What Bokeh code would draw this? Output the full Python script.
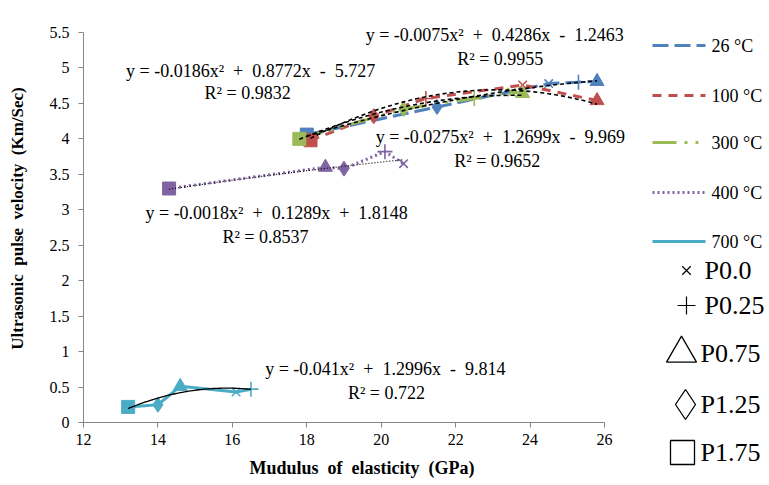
import numpy as np
from bokeh.plotting import figure
from bokeh.models import Range1d, Label, FixedTicker, CustomJSTickFormatter
from bokeh.layouts import row
from bokeh.embed import file_html
from bokeh.resources import INLINE

# ---------------- data ----------------
series_names = ["26 °C", "100 °C", "300 °C", "400 °C", "700 °C"]
levels = ["P0.0", "P0.25", "P0.75", "P1.25", "P1.75"]

e_26 = [24.5, 25.3, 25.8, 21.5, 18.0]
v_26 = [4.78, 4.80, 4.81, 4.45, 4.06]
e_100 = [23.8, 21.2, 25.8, 19.8, 18.1]
v_100 = [4.76, 4.57, 4.54, 4.32, 3.98]
e_300 = [23.5, 22.5, 23.8, 20.6, 17.8]
v_300 = [4.66, 4.57, 4.64, 4.42, 4.00]
e_400 = [20.6, 20.1, 18.5, 19.0, 14.3]
v_400 = [3.65, 3.82, 3.60, 3.58, 3.30]
e_700 = [16.1, 16.5, 14.6, 14.0, 13.2]
v_700 = [0.43, 0.47, 0.51, 0.25, 0.22]

fit_26 = [-0.0075, 0.4286, -1.2463]
fit_100 = [-0.0275, 1.2699, -9.969]
fit_300 = [-0.0186, 0.8772, -5.727]
fit_400 = [-0.0018, 0.1289, 1.8148]
fit_700 = [-0.041, 1.2996, -9.814]
r2_vals = [0.9955, 0.9652, 0.9832, 0.8537, 0.722]

x_ticks = [12, 14, 16, 18, 20, 22, 24, 26]
y_ticks = [0, 0.5, 1, 1.5, 2, 2.5, 3, 3.5, 4, 4.5, 5, 5.5]

# ---------------- style ----------------
colors = ["#4F81BD", "#C0504D", "#9BBB59", "#8064A2", "#4BACC6"]
dashes = ["16 6", "9 7", "24 8 3 8 3 8", "2 3", "solid"]
markers = ["x", "cross", "triangle", "diamond", "square"]
msizes = [12, 15, 14, 15, 13]
trend_dash = ["4 3", "4 3", "4 3", "1 2", "solid"]
trend_w = [1.6, 1.6, 1.6, 1.2, 1.3]
SERIF = "Liberation Serif"
SP = "\u00a0"

xs = [e_26, e_100, e_300, e_400, e_700]
ys = [v_26, v_100, v_300, v_400, v_700]
fits = [fit_26, fit_100, fit_300, fit_400, fit_700]

p = figure(width=650, height=482, x_range=Range1d(12, 26.967), y_range=Range1d(0, 5.754),
           output_backend="svg", toolbar_location=None,
           min_border_left=83, min_border_right=10, min_border_top=14, min_border_bottom=60)
p.outline_line_color = None
p.grid.visible = False
p.background_fill_color = "white"

for ax in (p.xaxis[0], p.yaxis[0]):
    ax.axis_line_color = "#868686"
    ax.major_tick_line_color = "#868686"
    ax.minor_tick_line_color = None
    ax.major_tick_out = 5
    ax.major_tick_in = 0
    ax.major_label_text_font = SERIF
    ax.major_label_text_font_size = "16px"
    ax.major_label_text_color = "black"
    ax.axis_label_text_font = SERIF
    ax.axis_label_text_font_style = "bold"
    ax.axis_label_text_font_size = "17px"
    ax.axis_label_text_color = "black"
    ax.formatter = CustomJSTickFormatter(code="return tick.toString();")

p.xaxis[0].ticker = FixedTicker(ticks=x_ticks)
p.yaxis[0].ticker = FixedTicker(ticks=y_ticks)
p.xaxis[0].bounds = (12, 26)
p.yaxis[0].bounds = (0, 5.5)
p.xaxis[0].major_label_standoff = 6
p.yaxis[0].major_label_standoff = 9
p.xaxis[0].axis_label_text_font_size = "18px"
p.xaxis[0].axis_label = "Mudulus" + SP * 2 + "of" + SP * 2 + "elasticity" + SP * 2 + "(GPa)"
p.yaxis[0].axis_label = "Ultrasonic" + SP * 2 + "pulse" + SP * 2 + "velocity" + SP * 2 + "(Km/Sec)"
p.xaxis[0].axis_label_standoff = 10
p.yaxis[0].axis_label_standoff = 20

# series lines (ordered by x) and markers
for i in range(5):
    order = np.argsort(xs[i])
    lx = [xs[i][k] for k in order]
    ly = [ys[i][k] for k in order]
    p.line(lx, ly, line_color=colors[i], line_width=3, line_dash=dashes[i])
for i in range(5):
    for j in range(5):
        if markers[j] in ("x", "cross"):
            p.scatter([xs[i][j]], [ys[i][j]], marker=markers[j], size=msizes[j],
                      line_color=colors[i], line_width=1.6)
        else:
            p.scatter([xs[i][j]], [ys[i][j]], marker=markers[j], size=msizes[j],
                      fill_color=colors[i], line_color=colors[i])

# trendlines (from displayed equations)
for i in range(5):
    t = np.linspace(min(xs[i]), max(xs[i]), 60)
    a, b, c = fits[i]
    p.line(t, a * t * t + b * t + c, line_color="black", line_width=trend_w[i],
           line_dash=trend_dash[i])


def eq_text(f):
    a, b, c = f
    sign = "+" if c >= 0 else "-"
    return f"y = {a:g}x²{SP*2}+{SP*2}{b:g}x{SP*2}{sign}{SP*2}{abs(c):g}"


# equation label positions (data coords), one per series
eq_pos = [(23.05, 5.46), (23.2, 4.02), (16.49, 4.96), (17.19, 2.95), (20.11, 0.75)]
r2_pos = [(23.2, 5.13), (23.12, 3.69), (16.41, 4.64), (16.89, 2.62), (20.14, 0.42)]
for i in range(5):
    p.add_layout(Label(x=eq_pos[i][0], y=eq_pos[i][1], text=eq_text(fits[i]),
                       text_align="center", text_baseline="middle",
                       text_font=SERIF, text_font_size="18px", text_color="black"))
    p.add_layout(Label(x=r2_pos[i][0], y=r2_pos[i][1], text=f"R² = {r2_vals[i]:g}",
                       text_align="center", text_baseline="middle",
                       text_font=SERIF, text_font_size="18px", text_color="black"))

# ---------------- legend panel ----------------
lf = figure(width=117, height=482, x_range=Range1d(650, 767), y_range=Range1d(482, 0),
            output_backend="svg", toolbar_location=None,
            min_border_left=0, min_border_right=0, min_border_top=0, min_border_bottom=0,
            x_axis_location=None, y_axis_location=None)
lf.frame_align = False
lf.outline_line_color = None
lf.grid.visible = False

row_y = [45, 95, 142, 192, 241]
for i in range(5):
    lf.line([652, 705], [row_y[i], row_y[i]], line_color=colors[i], line_width=3,
            line_dash=dashes[i])
    lf.add_layout(Label(x=711, y=row_y[i], text=series_names[i], text_align="left",
                        text_baseline="middle", text_font=SERIF, text_font_size="18px",
                        text_color="black"))

mk_y = [270, 305, 353, 404, 452]
mk_x = [686, 686, 681, 685, 682]
mk_size = [12, 18, 30, 30, 24]
for j in range(5):
    if markers[j] in ("x", "cross"):
        lf.scatter([mk_x[j]], [mk_y[j]], marker=markers[j], size=mk_size[j],
                   line_color="black", line_width=1.2)
    else:
        lf.scatter([mk_x[j]], [mk_y[j]], marker=markers[j], size=mk_size[j],
                   fill_color="white", line_color="black", line_width=1.3)
    lf.add_layout(Label(x=700 if j >= 2 else 704, y=mk_y[j], text=levels[j], text_align="left",
                        text_baseline="middle", text_font=SERIF, text_font_size="26px",
                        text_color="black"))

layout = row(p, lf)
open("out.html", "w").write(file_html(layout, INLINE))
